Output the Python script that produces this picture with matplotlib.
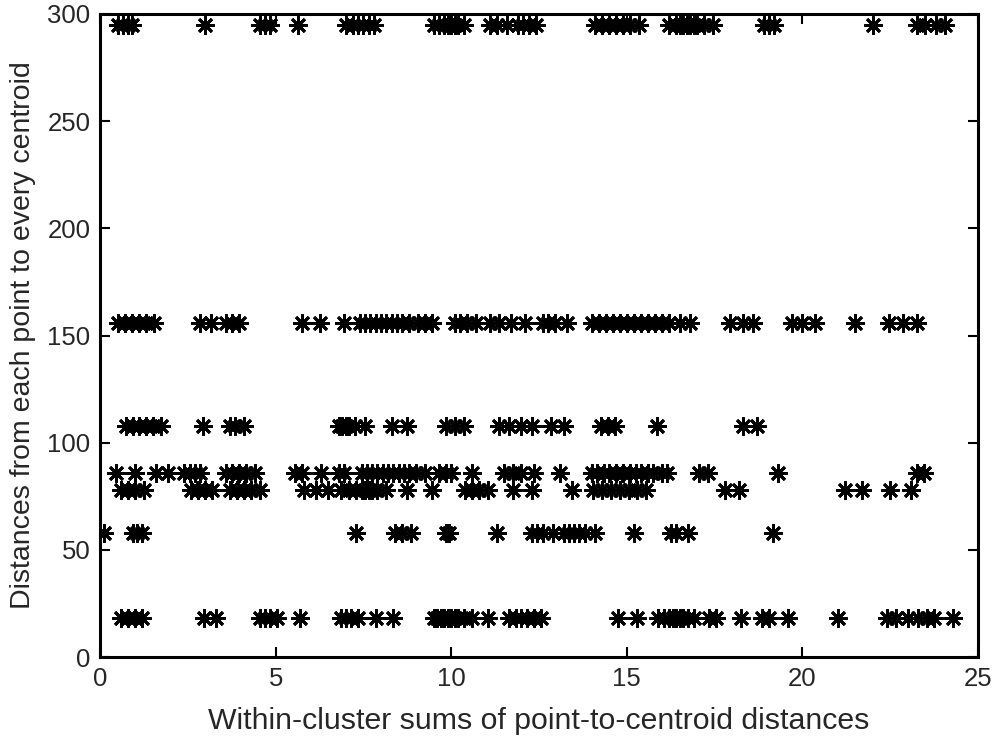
import matplotlib
matplotlib.use("Agg")
import matplotlib.pyplot as plt
import numpy as np

plt.rcParams['font.family'] = ['Liberation Sans', 'DejaVu Sans']

y_levels = [295, 156, 108, 86, 78, 58, 18]

x_295 = [0.5, 0.65, 0.8, 0.9, 3.0, 4.55, 4.7, 4.85, 5.65, 7.0, 7.2, 7.35, 7.5, 7.65, 7.8,
         9.5, 9.65, 9.8, 9.9, 10.0, 10.1, 10.2, 10.35, 11.1, 11.3, 11.6, 11.9, 12.05, 12.2, 12.4,
         14.1, 14.3, 14.5, 14.7, 14.9, 15.1, 15.35, 16.2, 16.4, 16.5, 16.6, 16.7, 16.8, 16.9,
         17.0, 17.2, 17.45, 18.9, 19.05, 19.2, 22.0, 23.25, 23.5, 23.8, 24.05]
x_156 = [0.5, 0.7, 0.9, 1.1, 1.3, 1.55, 2.85, 3.15, 3.6, 3.75, 3.95, 5.75, 6.25, 6.95, 7.4,
         7.55, 7.7, 7.85, 8.0, 8.15, 8.3, 8.45, 8.6, 8.8, 9.05, 9.25, 9.45, 10.1, 10.25, 10.45,
         10.7, 11.1, 11.35, 11.7, 12.1, 12.6, 12.75, 12.95, 13.3, 14.0, 14.2, 14.4, 14.6, 14.8,
         15.0, 15.2, 15.4, 15.6, 15.8, 16.0, 16.2, 16.5, 16.8, 17.95, 18.3, 18.6, 19.7, 20.0,
         20.35, 21.5, 22.45, 22.85, 23.25]
x_108 = [0.75, 0.95, 1.1, 1.3, 1.5, 1.75, 2.93, 3.7, 3.85, 4.1, 6.8, 6.9, 7.0, 7.1, 7.25,
         7.55, 8.3, 8.75, 9.85, 10.1, 10.35, 11.35, 11.65, 12.0, 12.3, 12.85, 13.2, 14.25,
         14.45, 14.65, 15.85, 18.3, 18.7]
x_86 = [0.45, 1.0, 1.6, 1.95, 2.4, 2.55, 2.7, 2.85, 3.6, 3.75, 3.95, 4.15, 4.4, 5.55, 5.75,
        6.3, 6.8, 6.95, 7.45, 7.6, 7.75, 7.9, 8.05, 8.2, 8.35, 8.5, 8.65, 8.8, 9.0, 9.25,
        9.65, 9.85, 10.0, 10.6, 11.5, 11.75, 12.0, 12.35, 13.1, 14.0, 14.15, 14.35, 14.5,
        14.7, 14.9, 15.1, 15.25, 15.4, 15.6, 15.75, 16.0, 16.15, 17.05, 17.3, 19.3, 23.25, 23.45]
x_78 = [0.6, 0.8, 1.0, 1.25, 2.6, 2.8, 3.0, 3.2, 3.7, 3.9, 4.1, 4.3, 4.55, 5.8, 6.15, 6.5,
        6.85, 7.1, 7.3, 7.45, 7.55, 7.65, 7.75, 7.9, 8.15, 8.75, 9.45, 10.4, 10.6, 10.8, 11.05,
        11.75, 12.3, 13.45, 14.05, 14.3, 14.55, 14.8, 15.05, 15.3, 15.55, 17.8, 18.2, 21.2,
        21.7, 22.5, 23.1]
x_58 = [0.1, 0.95, 1.05, 1.2, 7.3, 8.4, 8.6, 8.85, 9.85, 9.95, 11.3, 12.3, 12.45, 12.6,
        12.9, 13.2, 13.35, 13.5, 13.65, 13.8, 14.1, 15.2, 16.25, 16.4, 16.75, 19.15]
x_18 = [0.6, 0.8, 1.0, 1.2, 2.95, 3.3, 4.55, 4.7, 4.85, 5.05, 5.7, 6.85, 7.0, 7.15, 7.35,
        7.85, 8.35, 9.5, 9.6, 9.7, 9.8, 9.9, 10.0, 10.1, 10.2, 10.35, 10.6, 11.05, 11.65,
        11.85, 12.0, 12.15, 12.35, 12.55, 14.75, 15.3, 15.9, 16.05, 16.2, 16.3, 16.4, 16.5,
        16.6, 16.75, 16.9, 17.35, 17.55, 18.25, 18.85, 19.05, 19.6, 21.0, 22.4, 22.65, 23.0,
        23.3, 23.55, 23.75, 24.3]

x_rows = [x_295, x_156, x_108, x_86, x_78, x_58, x_18]

x_ticks = [0, 5, 10, 15, 20, 25]
y_ticks = [0, 50, 100, 150, 200, 250, 300]
x_label = "Within-cluster sums of point-to-centroid distances"
y_label = "Distances from each point to every centroid"

fig = plt.figure(figsize=(9.95, 7.36), dpi=100)
ax = fig.add_axes([0.1005, 0.1073, 0.8825, 0.8737])

xs = np.concatenate([np.asarray(r, float) for r in x_rows])
ys = np.concatenate([np.full(len(r), yv, float) for r, yv in zip(x_rows, y_levels)])
ax.plot(xs, ys, linestyle='none', marker=(8, 2, 0), markersize=13,
        markeredgewidth=2.0, color='black')

ax.set_xlim(0, 25)
ax.set_ylim(0, 300)
ax.set_xticks(x_ticks)
ax.set_yticks(y_ticks)
ax.tick_params(direction='in', length=7, width=1.5, top=True, right=True,
               labelsize=18.5, colors='black', labelcolor='#262626', pad=7)
for s in ax.spines.values():
    s.set_linewidth(2.2)
ax.set_xlabel(x_label, fontsize=21.8, color='#262626', labelpad=12)
ax.set_ylabel(y_label, fontsize=20.5, color='#262626', labelpad=8)

fig.savefig("out.png", dpi=100)
